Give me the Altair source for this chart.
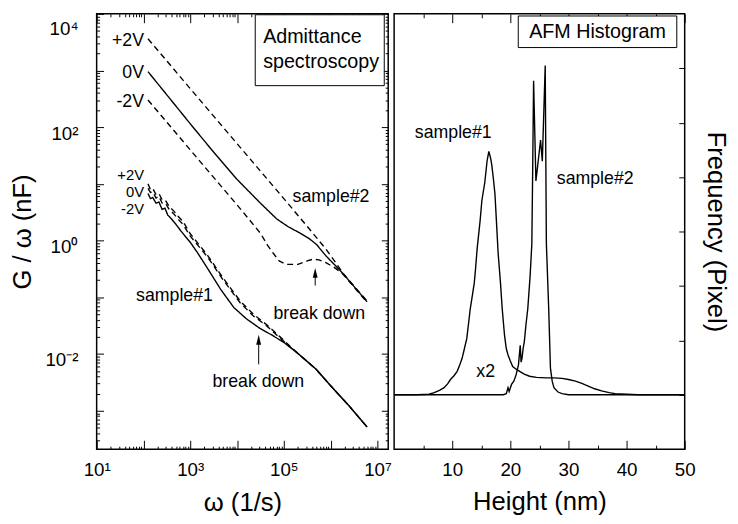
import json
import altair as alt
import pandas as pd

FONT = "Liberation Sans"

# ---------------- Left panel: admittance spectroscopy (log-log) ----------------
s2_p2_w = [125, 1000, 1e4, 1e5, 3.16e5, 7.94e5, 1.26e6, 1.78e6, 3.16e6, 6.03e6]
s2_p2_g = [3630, 479, 51.3, 5.50, 1.78, 0.708, 0.417, 0.275, 0.158, 0.0851]
s2_0_w = [125, 316, 1000, 3160, 1e4, 3.16e4, 7.08e4, 1.26e5, 2.24e5, 3.55e5, 5.01e5,
          7.94e5, 1.26e6, 1.78e6, 3.16e6, 6.03e6]
s2_0_g = [955, 372, 115, 36.3, 12.0, 4.57, 2.40, 1.74, 1.35, 1.07, 0.851,
          0.537, 0.363, 0.269, 0.155, 0.0832]
s2_m2_w = [125, 1000, 1e4, 3.16e4, 4.47e4, 5.89e4, 7.94e4, 1.12e5, 2.0e5, 3.16e5, 4.17e5,
           5.62e5, 7.94e5, 1.17e6, 1.78e6, 3.16e6, 6.03e6]
s2_m2_g = [302, 39.8, 4.27, 1.35, 0.832, 0.603, 0.437, 0.380, 0.380, 0.437, 0.468,
           0.457, 0.407, 0.339, 0.263, 0.151, 0.0813]
s1_0_w = [125, 141, 158, 186, 214, 251, 288, 331, 398, 501, 631, 794, 1000, 1445, 2512,
          4467, 8511, 1.585e4, 3.09e4, 5.62e4, 9.77e4, 2.0e5, 4.9e5, 1.0e6, 2.51e6, 6.03e6]
s1_0_g = [6.76, 5.50, 5.75, 4.57, 4.79, 3.55, 3.72, 2.82, 2.40, 1.91, 1.48, 1.17, 0.933, 0.603,
          0.295, 0.138, 0.0661, 0.0417, 0.0282, 0.0214, 0.0162, 0.0102, 0.00537, 0.00275,
          0.00120, 0.000513]
s1_d_w = [125, 141, 158, 186, 214, 251, 295, 355, 447, 562, 708, 1000, 2344, 5012, 1.175e4,
          2.24e4, 4.37e4, 8.32e4, 1.26e5, 2.0e5, 4.9e5, 1.0e6, 2.51e6, 6.03e6]
s1_p2_g = [10.0, 7.94, 8.32, 6.46, 6.76, 5.25, 5.13, 3.98, 3.31, 2.63, 2.14, 1.32, 0.550, 0.219,
           0.0851, 0.0501, 0.0324, 0.0200, 0.0145, 0.0102, 0.00537, 0.00275, 0.00120, 0.000513]
s1_m2_g = [8.32, 7.08, 7.24, 5.62, 6.03, 4.57, 4.57, 3.55, 2.95, 2.34, 1.91, 1.20, 0.513, 0.204,
           0.0794, 0.0468, 0.0309, 0.0191, 0.0141, 0.0102, 0.00537, 0.00275, 0.00120, 0.000513]

series_names = ["s2 +2V", "s2 0V", "s2 -2V", "s1 +2V", "s1 0V", "s1 -2V"]
series_dash = [[6, 4], [1, 0], [6, 4], [6, 4], [1, 0], [6, 4]]

# annotation texts (left)
v2_labels = ["+2V", "0V", "-2V"]
v2_label_g = [3266, 908, 273]
v1_labels = ["+2V", "0V", "-2V"]
v1_label_g = [14.45, 7.18, 3.56]
v_label_omega = 103
note_text = ["sample#2", "sample#1", "break down", "break down"]
note_omega = [1.02e6, 460, 5.73e5, 2.84e4]
note_g = [5.87, 0.1035, 0.0504, 0.00319]
arrow_omega = [4.68e5, 2.9e4]
arrow_tail = [0.161, 0.00655]
arrow_head = [0.270, 0.0178]
box_l_omega = [2.45e4, 1.40e7]
box_l_g = [540, 9620]
box_l_text = ["Admittance", "spectroscopy"]
box_l_text_omega = 3.61e4
box_l_text_g = [3900, 1420]

# ---------------- Right panel: AFM histogram ----------------
h1_x = [0, 2, 4, 6, 6.9, 7.8, 8.6, 9.2, 9.7, 10.3, 10.85, 11.3, 11.7, 12.1, 12.5, 12.8, 13.1,
        13.5, 13.8, 14.0, 14.3, 14.8, 15.1, 15.6, 16.0, 16.3, 16.6, 16.8, 17.1, 17.35, 17.6,
        17.9, 18.3, 18.6, 19.0, 19.3, 19.6, 20.0, 20.4, 21.0, 21.6, 22.4, 23.3, 24.5, 26.1,
        27.5, 28.9, 30.0, 31.2, 32.3, 33.4, 34.5, 35.7, 37.0, 38.0, 40, 42, 50]
h1_y = [1.0, 1.0, 1.0, 1.01, 1.04, 1.08, 1.13, 1.2, 1.28, 1.35, 1.43, 1.55, 1.67, 1.85, 2.03,
        2.3, 2.58, 2.85, 3.06, 3.3, 3.7, 4.2, 4.57, 4.9, 5.3, 5.47, 5.35, 5.23, 4.95, 4.69, 4.2,
        3.6, 3.06, 2.58, 2.09, 1.85, 1.73, 1.62, 1.52, 1.47, 1.43, 1.38, 1.34, 1.32, 1.31,
        1.31, 1.30, 1.28, 1.25, 1.21, 1.16, 1.11, 1.07, 1.04, 1.02, 1.01, 1.0, 1.0]
h2_x = [0, 5, 10, 15, 18.8, 19.3, 19.6, 19.8, 20.2, 20.6, 21.0, 21.4, 21.7, 21.85, 22.0, 22.2,
        22.4, 22.7, 23.0, 23.4, 23.7, 23.85, 24.0, 24.4, 24.8, 25.2, 25.5, 26.0, 26.2, 26.6,
        26.9, 27.2, 27.5, 28.2, 28.9, 30, 35, 40, 45, 50]
h2_y = [1.0, 1.0, 1.0, 1.0, 1.0, 1.02, 1.13, 1.06, 1.19, 1.25, 1.37, 1.55, 1.91, 1.6, 1.67, 1.85,
        1.97, 2.3, 2.58, 3.18, 3.78, 5.2, 6.77, 4.93, 5.3, 5.68, 5.29, 7.05, 3.78, 2.58,
        1.49, 1.25, 1.13, 1.05, 1.02, 1.0, 1.0, 1.0, 1.0, 1.0]

r_note_text = ["sample#1", "sample#2", "x2"]
r_note_x = [10.17, 34.6, 15.76]
r_note_y = [5.81, 4.96, 1.41]
box_r_x = [21.36, 48.64]
box_r_y = [7.38, 7.96]
box_r_text = "AFM Histogram"
box_r_text_x = 35.0
box_r_text_y = 7.66

# ---------------- axis tick values ----------------
lx_major = [10, 100, 1000, 10000, 100000, 1000000, 10000000]
lx_minor = [k * m for m in lx_major[:-1] for k in range(2, 10)]
lx_ticks = sorted(lx_major + lx_minor)
lx_label_vals = [10, 1000, 100000, 10000000]
lx_label_txt = ["10¹", "10³", "10⁵", "10⁷"]

ly_major = [0.001, 0.01, 0.1, 1, 10, 100, 1000, 10000]
ly_minor = [k * m for m in [0.0001] + ly_major[:-1] for k in range(2, 10) if k * m > 2.1e-4]
ly_ticks = sorted(ly_major + ly_minor)
ly_label_vals = [0.01, 1, 100, 10000]
ly_label_txt = ["10⁻²", "10⁰", "10²", "10⁴"]

rx_major = [10, 20, 30, 40, 50]
rx_ticks = [5, 10, 15, 20, 25, 30, 35, 40, 45, 50]
ry_ticks = [1, 2, 3, 4, 5, 6, 7]


def label_expr(vals, txts):
    s = "''"
    for v, t in reversed(list(zip(vals, txts))):
        s = f"datum.value == {json.dumps(v)} ? '{t}' : ({s})"
    return s


def tsize(majors, big, small):
    return {"condition": {"test": f"indexof({json.dumps(majors)}, datum.value) >= 0",
                          "value": -big}, "value": -small}


# ---------------- data frames ----------------
rows = []
for name, ws, gs in [("s2 +2V", s2_p2_w, s2_p2_g), ("s2 0V", s2_0_w, s2_0_g),
                     ("s2 -2V", s2_m2_w, s2_m2_g), ("s1 +2V", s1_d_w, s1_p2_g),
                     ("s1 0V", s1_0_w, s1_0_g), ("s1 -2V", s1_d_w, s1_m2_g)]:
    for w, g in zip(ws, gs):
        rows.append({"omega": w, "G": g, "series": name})
df_left = pd.DataFrame(rows)

rows = []
for name, xs, ys in [("sample#1", h1_x, h1_y), ("sample#2", h2_x, h2_y)]:
    for a, b in zip(xs, ys):
        rows.append({"h": a, "f": b, "series": name})
df_right = pd.DataFrame(rows)

xs_left = alt.Scale(type="log", domain=[10, 1.7e7], nice=False)
ys_left = alt.Scale(type="log", domain=[2.09e-4, 1e4], nice=False)
xs_right = alt.Scale(domain=[0, 50], nice=False, zero=False)
ys_right = alt.Scale(domain=[0, 8], nice=False, zero=False)

# ---------------- left panel ----------------
ax_lb = alt.Axis(orient="bottom", values=lx_ticks, tickSize=tsize(lx_major, 9, 3),
                 labelExpr=label_expr(lx_label_vals, lx_label_txt), labelPadding=21,
                 labelFlush=False, labelOverlap=False, title="ω (1/s)", titlePadding=4)
ax_lt = alt.Axis(orient="top", values=lx_ticks, tickSize=tsize(lx_major, 9, 3),
                 labels=False, title=None)
ax_ll = alt.Axis(orient="left", values=ly_ticks, tickSize=tsize(ly_major, 7, 3),
                 labelExpr=label_expr(ly_label_vals, ly_label_txt), labelPadding=26,
                 labelOffset=6, labelFlush=True, labelOverlap=False,
                 title="G / ω (nF)", titlePadding=10)
ax_lr = alt.Axis(orient="right", values=ly_ticks, tickSize=tsize(ly_major, 7, 3),
                 labels=False, title=None)

lines_left = alt.Chart(df_left).mark_line(strokeWidth=1.4, color="black").encode(
    x=alt.X("omega:Q", scale=xs_left, axis=ax_lb),
    y=alt.Y("G:Q", scale=ys_left, axis=ax_ll),
    strokeDash=alt.StrokeDash("series:N", scale=alt.Scale(domain=series_names, range=series_dash),
                              legend=None),
    detail="series:N",
)
mirror_left = alt.Chart(df_left).mark_point(opacity=0).encode(
    x=alt.X("omega:Q", scale=xs_left, axis=ax_lt),
    y=alt.Y("G:Q", scale=ys_left, axis=ax_lr),
)

v2df = pd.DataFrame({"omega": [v_label_omega] * 3, "G": v2_label_g, "t": v2_labels})
v2text = alt.Chart(v2df).mark_text(font=FONT, fontSize=18, color="black", align="right",
                                   baseline="middle").encode(
    x=alt.X("omega:Q", scale=xs_left, axis=None), y=alt.Y("G:Q", scale=ys_left, axis=None),
    text="t:N")
v1df = pd.DataFrame({"omega": [v_label_omega] * 3, "G": v1_label_g, "t": v1_labels})
v1text = alt.Chart(v1df).mark_text(font=FONT, fontSize=15, color="black", align="right",
                                   baseline="middle").encode(
    x=alt.X("omega:Q", scale=xs_left, axis=None), y=alt.Y("G:Q", scale=ys_left, axis=None),
    text="t:N")
ndf = pd.DataFrame({"omega": note_omega, "G": note_g, "t": note_text})
ntext = alt.Chart(ndf).mark_text(font=FONT, fontSize=18, color="black", align="center",
                                 baseline="middle").encode(
    x=alt.X("omega:Q", scale=xs_left, axis=None), y=alt.Y("G:Q", scale=ys_left, axis=None),
    text="t:N")
adf = pd.DataFrame({"omega": arrow_omega, "tail": arrow_tail, "head": arrow_head})
shafts = alt.Chart(adf).mark_rule(color="black", strokeWidth=1).encode(
    x=alt.X("omega:Q", scale=xs_left, axis=None), y=alt.Y("tail:Q", scale=ys_left, axis=None),
    y2="head:Q")
heads = alt.Chart(adf).mark_point(shape="M0,-1L0.5,1L-0.5,1Z", filled=True, size=100,
                                  color="black", opacity=1).encode(
    x=alt.X("omega:Q", scale=xs_left, axis=None), y=alt.Y("head:Q", scale=ys_left, axis=None))
bldf = pd.DataFrame({"x1": [box_l_omega[0]], "x2": [box_l_omega[1]],
                     "y1": [box_l_g[0]], "y2": [box_l_g[1]]})
box_l = alt.Chart(bldf).mark_rect(fill="white", stroke="black", strokeWidth=1).encode(
    x=alt.X("x1:Q", scale=xs_left, axis=None), x2="x2:Q",
    y=alt.Y("y1:Q", scale=ys_left, axis=None), y2="y2:Q")
bltdf = pd.DataFrame({"omega": [box_l_text_omega] * 2, "G": box_l_text_g, "t": box_l_text})
box_l_txt = alt.Chart(bltdf).mark_text(font=FONT, fontSize=20, color="black", align="left",
                                       baseline="middle").encode(
    x=alt.X("omega:Q", scale=xs_left, axis=None), y=alt.Y("G:Q", scale=ys_left, axis=None),
    text="t:N")

left = alt.layer(lines_left, mirror_left, box_l, box_l_txt, v2text, v1text, ntext, shafts,
                 heads).resolve_axis(x="independent", y="independent").properties(
    width=296, height=442)

# ---------------- right panel ----------------
rx_expr = f"indexof({json.dumps(rx_major)}, datum.value) >= 0 ? '' + datum.value : ''"
ax_rb = alt.Axis(orient="bottom", values=rx_ticks, tickSize=tsize(rx_major, 9, 4),
                 labelExpr=rx_expr, labelPadding=21, labelFlush=False, labelOverlap=False,
                 title="Height (nm)", titlePadding=4)
ax_rt = alt.Axis(orient="top", values=rx_ticks, tickSize=tsize(rx_major, 9, 4),
                 labels=False, title=None)
ax_rr = alt.Axis(orient="right", values=ry_ticks, tickSize=tsize(ry_ticks, 6, 6),
                 labels=False, title="Frequency (Pixel)", titlePadding=18)

lines_right = alt.Chart(df_right).mark_line(strokeWidth=1.4, color="black").encode(
    x=alt.X("h:Q", scale=xs_right, axis=ax_rb),
    y=alt.Y("f:Q", scale=ys_right, axis=ax_rr),
    detail="series:N",
)
mirror_right = alt.Chart(df_right).mark_point(opacity=0).encode(
    x=alt.X("h:Q", scale=xs_right, axis=ax_rt),
    y=alt.Y("f:Q", scale=ys_right, axis=None),
)
rndf = pd.DataFrame({"h": r_note_x, "f": r_note_y, "t": r_note_text})
rtext = alt.Chart(rndf).mark_text(font=FONT, fontSize=18, color="black", align="center",
                                  baseline="middle").encode(
    x=alt.X("h:Q", scale=xs_right, axis=None), y=alt.Y("f:Q", scale=ys_right, axis=None),
    text="t:N")
brdf = pd.DataFrame({"x1": [box_r_x[0]], "x2": [box_r_x[1]], "y1": [box_r_y[0]], "y2": [box_r_y[1]]})
box_r = alt.Chart(brdf).mark_rect(fill="white", stroke="black", strokeWidth=1).encode(
    x=alt.X("x1:Q", scale=xs_right, axis=None), x2="x2:Q",
    y=alt.Y("y1:Q", scale=ys_right, axis=None), y2="y2:Q")
brtdf = pd.DataFrame({"h": [box_r_text_x], "f": [box_r_text_y], "t": [box_r_text]})
box_r_txt = alt.Chart(brtdf).mark_text(font=FONT, fontSize=20, color="black", align="center",
                                       baseline="middle").encode(
    x=alt.X("h:Q", scale=xs_right, axis=None), y=alt.Y("f:Q", scale=ys_right, axis=None),
    text="t:N")

right = alt.layer(lines_right, mirror_right, box_r, box_r_txt, rtext).resolve_axis(
    x="independent", y="independent").properties(width=295, height=442)

chart = alt.hconcat(left, right, spacing=6, bounds="flush").properties(
    padding={"left": 0, "top": 0, "right": 0, "bottom": 0}
).configure_axis(
    labelFont=FONT, titleFont=FONT, labelFontSize=19, titleFontSize=26,
    titleFontWeight="normal", labelColor="black", titleColor="black",
    tickColor="black", tickWidth=1, grid=False, domain=False,
).configure_view(stroke="black", strokeWidth=1.5)

chart.save("out.html", embed_options={"renderer": "svg", "actions": False})
